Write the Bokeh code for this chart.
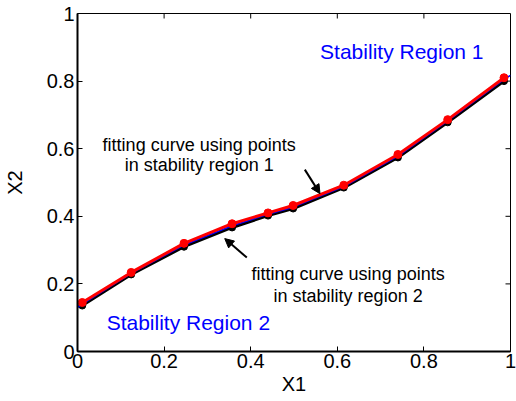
import math
from bokeh.plotting import figure
from bokeh.models import FixedTicker, Label, Arrow, NormalHead, Range1d
from bokeh.embed import file_html
from bokeh.resources import INLINE

# ---- data ----
x_pts = [0.011, 0.124, 0.246, 0.357, 0.44, 0.498, 0.615, 0.74, 0.855, 0.985]
red_y = [0.145, 0.234, 0.32, 0.378, 0.41, 0.432, 0.492, 0.583, 0.686, 0.81]
black_y = [0.136, 0.228, 0.31, 0.367, 0.402, 0.423, 0.485, 0.574, 0.678, 0.80]
blue_x = [0.0, 0.011, 0.124, 0.246, 0.357, 0.44, 0.498, 0.615, 0.74, 0.855, 0.985, 1.0]
blue_y = [0.13, 0.14, 0.231, 0.315, 0.372, 0.406, 0.427, 0.488, 0.578, 0.682, 0.805, 0.817]
ticks = [0, 0.2, 0.4, 0.6, 0.8, 1]
tick_labels = ["0", "0.2", "0.4", "0.6", "0.8", "1"]
x_label = "X1"
y_label = "X2"
region_texts = ["Stability Region 1", "Stability Region 2"]
fit1_lines = ["fitting curve using points", "in stability region 1"]
fit2_lines = ["fitting curve using points", "in stability region 2"]

FONT = "Liberation Sans"

p = figure(width=516, height=401, x_range=Range1d(0, 1), y_range=Range1d(0, 1),
           output_backend="svg", toolbar_location=None,
           min_border_left=76, min_border_right=6, min_border_top=13, min_border_bottom=50)
p.background_fill_color = "white"
p.border_fill_color = "white"
p.xgrid.visible = False
p.ygrid.visible = False
p.outline_line_color = "black"
p.outline_line_width = 1

for ax in (p.xaxis[0], p.yaxis[0]):
    ax.ticker = FixedTicker(ticks=ticks)
    ax.major_label_overrides = {t: l for t, l in zip(ticks, tick_labels)}
    ax.minor_tick_line_color = None
    ax.major_tick_in = 5
    ax.major_tick_out = 0
    ax.axis_line_width = 2
    ax.axis_line_color = "black"
    ax.major_tick_line_color = "black"
    ax.major_label_text_font = FONT
    ax.major_label_text_font_size = "20px"
    ax.major_label_text_color = "black"
    ax.axis_label_text_font = FONT
    ax.axis_label_text_font_size = "20px"
    ax.axis_label_text_font_style = "normal"
    ax.axis_label_text_color = "black"
p.xaxis[0].major_label_standoff = 2
p.yaxis[0].major_label_standoff = 3
p.xaxis[0].axis_label = x_label
p.xaxis[0].axis_label_standoff = 2
p.yaxis[0].axis_label = y_label
p.yaxis[0].axis_label_standoff = 18

# ticks on top and right edges (box on)
p.scatter(x=ticks[1:-1], y=[1] * (len(ticks) - 2), marker="dash", angle=math.pi / 2,
          size=10, line_color="black", line_width=1)
p.scatter(x=[1] * (len(ticks) - 2), y=ticks[1:-1], marker="dash",
          size=10, line_color="black", line_width=1)

# curves
p.line(x_pts, black_y, line_color="black", line_width=3)
p.scatter(x_pts, black_y, size=7, fill_color="black", line_color="black")
p.line(blue_x, blue_y, line_color="blue", line_width=1.5)
p.line(x_pts, red_y, line_color="red", line_width=3)
p.scatter(x_pts, red_y, size=8, fill_color="red", line_color="red")

# region labels
p.add_layout(Label(x=0.749, y=0.888, text=region_texts[0], text_align="center",
                   text_baseline="alphabetic", text_font=FONT, text_font_size="21px",
                   text_color="blue"))
p.add_layout(Label(x=0.256, y=0.086, text=region_texts[1], text_align="center",
                   text_baseline="alphabetic", text_font=FONT, text_font_size="21px",
                   text_color="blue"))

# fitting-curve annotations
for (yy, txt) in zip([0.612, 0.553], fit1_lines):
    p.add_layout(Label(x=0.281, y=yy, text=txt, text_align="center",
                       text_baseline="alphabetic", text_font=FONT, text_font_size="18px",
                       text_color="black"))
for (yy, txt) in zip([0.228, 0.163], fit2_lines):
    p.add_layout(Label(x=0.625, y=yy, text=txt, text_align="center",
                       text_baseline="alphabetic", text_font=FONT, text_font_size="18px",
                       text_color="black"))

# arrows
p.add_layout(Arrow(end=NormalHead(size=9, fill_color="black", line_color="black"),
                   x_start=0.525, y_start=0.538, x_end=0.560, y_end=0.467,
                   line_color="black", line_width=2))
p.add_layout(Arrow(end=NormalHead(size=9, fill_color="black", line_color="black"),
                   x_start=0.391, y_start=0.278, x_end=0.340, y_end=0.334,
                   line_color="black", line_width=2))

open("out.html", "w").write(file_html(p, INLINE))
